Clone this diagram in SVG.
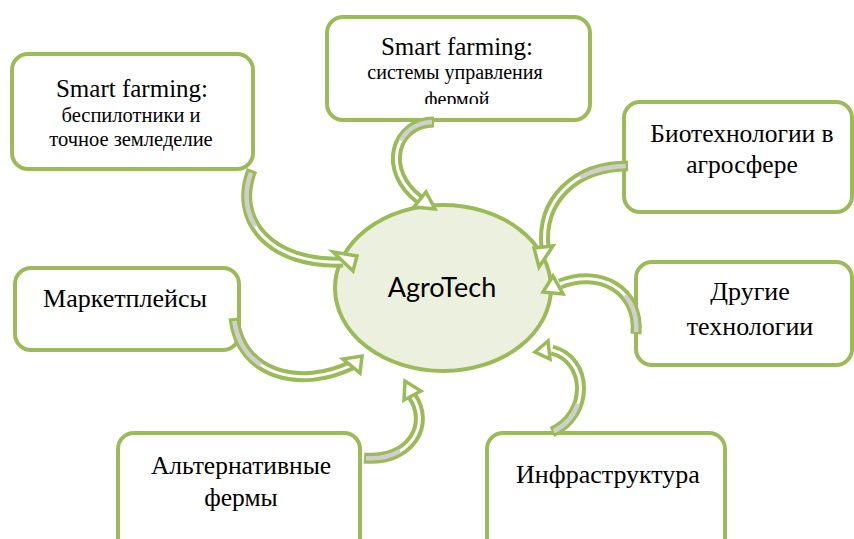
<svg xmlns="http://www.w3.org/2000/svg" width="854" height="539" viewBox="0 0 854 539">
<style>
.box{fill:#fff;stroke:#9bbb59;stroke-width:4}
.t{font-family:"Liberation Serif","Times New Roman",serif;fill:#000;text-anchor:middle}
.band{fill:none;stroke:#9bbb59;stroke-width:11}
.wh{fill:none;stroke:#fff;stroke-width:3;stroke-dasharray:0 2 100}
.gr{fill:none;stroke:#cfcfcf;stroke-width:4.5;stroke-dasharray:0 2 35 100}
.head{fill:#fff;stroke:#9bbb59;stroke-width:3.5;stroke-linejoin:miter}
</style>
<defs>
<clipPath id="c2"><rect x="327" y="17" width="263" height="87"/></clipPath>
</defs>
<rect width="854" height="539" fill="#fff"/>
<g id="node-smart1">
<rect class="box" x="12" y="54" width="241" height="115" rx="16"/>
<text class="t" x="132" y="97" font-size="25">Smart farming:</text>
<text class="t" x="131" y="122" font-size="20.5">беспилотники и</text>
<text class="t" x="131" y="146" font-size="20.5">точное земледелие</text>
</g>
<g id="node-smart2">
<rect class="box" x="327" y="17" width="263" height="103" rx="16"/>
<text class="t" x="457" y="55" font-size="25">Smart farming:</text>
<text class="t" x="455" y="79" font-size="20">системы управления</text>
<text class="t" x="457" y="106" font-size="20" clip-path="url(#c2)">фермой</text>
</g>
<g id="node-bio">
<rect class="box" x="624" y="102" width="228" height="110" rx="16"/>
<text class="t" x="742" y="142" font-size="25.5">Биотехнологии в</text>
<text class="t" x="742" y="173" font-size="25.5">агросфере</text>
</g>
<g id="node-other">
<rect class="box" x="636" y="262" width="216" height="103" rx="16"/>
<text class="t" x="750" y="300" font-size="26">Другие</text>
<text class="t" x="750" y="335" font-size="26">технологии</text>
</g>
<g id="node-market">
<rect class="box" x="15" y="268" width="224" height="82" rx="16"/>
<text class="t" x="125" y="307" font-size="26">Маркетплейсы</text>
</g>
<g id="node-alt">
<rect class="box" x="118" y="433" width="242" height="125" rx="16"/>
<text class="t" x="241" y="474" font-size="25.5">Альтернативные</text>
<text class="t" x="241" y="506" font-size="25.5">фермы</text>
</g>
<g id="node-infra">
<rect class="box" x="487" y="433" width="238" height="125" rx="16"/>
<text class="t" x="608" y="483" font-size="26">Инфраструктура</text>
</g>
<g id="node-center">
<ellipse cx="443" cy="288" rx="108" ry="83" fill="#ebf1de" stroke="#9bbb59" stroke-width="4"/>
<text x="442" y="297" font-family="Lato,'Open Sans',sans-serif" font-size="27" text-anchor="middle" fill="#000">AgroTech</text>
</g>
<g id="connectors">
<g id="a1">
<path class="band" d="M252,170 C232,220 270,265 343,262"/>
<path class="wh" pathLength="100" d="M252,170 C232,220 270,265 343,262"/>
<path class="gr" pathLength="100" d="M252,170 C232,220 270,265 343,262"/>
<polygon class="head" points="333,252 357,256 353,271"/>
</g>
<g id="a2">
<path class="band" d="M434,122 C395,122 380,170 420,200"/>
<path class="wh" pathLength="100" d="M434,122 C395,122 380,170 420,200"/>
<path class="gr" pathLength="100" d="M434,122 C395,122 380,170 420,200"/>
<polygon class="head" points="426,192 435,209 414,207"/>
</g>
<g id="a3">
<path class="band" d="M628,166 C575,166 540,200 545,248"/>
<path class="wh" pathLength="100" d="M628,166 C575,166 540,200 545,248"/>
<path class="gr" pathLength="100" d="M628,166 C575,166 540,200 545,248"/>
<polygon class="head" points="534,248 553,246 539,267"/>
</g>
<g id="a4">
<path class="band" d="M636,334 C640,290 600,268 560,284"/>
<path class="wh" pathLength="100" d="M636,334 C640,290 600,268 560,284"/>
<path class="gr" pathLength="100" d="M636,334 C640,290 600,268 560,284"/>
<polygon class="head" points="553,276 563,294 543,292"/>
</g>
<g id="a5">
<path class="band" d="M234,318 C240,375 300,390 352,365"/>
<path class="wh" pathLength="100" d="M234,318 C240,375 300,390 352,365"/>
<path class="gr" pathLength="100" d="M234,318 C240,375 300,390 352,365"/>
<polygon class="head" points="343,359 362,356 360,373"/>
</g>
<g id="a6">
<path class="band" d="M364,458 C410,462 432,425 412,396"/>
<path class="wh" pathLength="100" d="M364,458 C410,462 432,425 412,396"/>
<path class="gr" pathLength="100" d="M364,458 C410,462 432,425 412,396"/>
<polygon class="head" points="421,391 404,400 405,381"/>
</g>
<g id="a7">
<path class="band" d="M552,432 C590,415 590,360 552,350"/>
<path class="wh" pathLength="100" d="M552,432 C590,415 590,360 552,350"/>
<path class="gr" pathLength="100" d="M552,432 C590,415 590,360 552,350"/>
<polygon class="head" points="548,341 535,352 550,359"/>
</g>
</g>
</svg>
